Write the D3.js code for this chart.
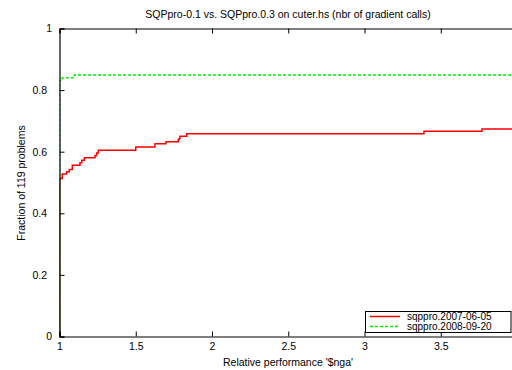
<!DOCTYPE html>
<html>
<head>
<meta charset="utf-8">
<script src="https://cdn.jsdelivr.net/npm/d3@7"></script>
<style>
  html, body { margin: 0; padding: 0; background: #fff; }
  svg { display: block; font-family: "Liberation Sans", Arial, sans-serif; }
</style>
</head>
<body>
<svg id="chart" width="512" height="370"></svg>
<script>
// ---- data ----
const titleText = "SQPpro-0.1 vs. SQPpro.0.3 on cuter.hs (nbr of gradient calls)";
const xLabelText = "Relative performance '$nga'";
const yLabelText = "Fraction of 119 problems";
const xTicks = [1, 1.5, 2, 2.5, 3, 3.5];
const xTickLabels = ["1", "1.5", "2", "2.5", "3", "3.5"];
const yTicks = [0, 0.2, 0.4, 0.6, 0.8, 1];
const yTickLabels = ["0", "0.2", "0.4", "0.6", "0.8", "1"];
const seriesNames = ["sqppro.2007-06-05", "sqppro.2008-09-20"];
const seriesColors = ["#ff0000", "#00ee00"];
// step profile for sqppro.2007-06-05
const redX = [1, 1, 1.018, 1.047, 1.064, 1.084, 1.134, 1.146, 1.163, 1.233, 1.244, 1.254, 1.500, 1.626, 1.698, 1.779, 1.786, 1.790, 1.834, 3.390, 3.770, 4.0];
const redY = [0, 0.513, 0.528, 0.535, 0.542, 0.556, 0.564, 0.572, 0.580, 0.588, 0.596, 0.605, 0.615, 0.626, 0.632, 0.640, 0.644, 0.650, 0.658, 0.666, 0.674, 0.674];
// step profile for sqppro.2008-09-20
const greenX = [1, 1, 1.018, 1.097, 4.0];
const greenY = [0, 0.832, 0.840, 0.849, 0.849];

// ---- layout ----
const mLeft = 59.5, mRight = 517, mTop = 28.5, mBottom = 336.5;
const fs = 10.5;
const svg = d3.select("#chart");
const x = d3.scaleLinear().domain([1, 4]).range([mLeft, mRight]);
const y = d3.scaleLinear().domain([0, 1]).range([mBottom, mTop]);

svg.append("defs").append("clipPath").attr("id", "clip")
  .append("rect").attr("x", mLeft).attr("y", mTop).attr("width", mRight - mLeft).attr("height", mBottom - mTop);

const line = d3.line().x(d => x(d[0])).y(d => y(d[1])).curve(d3.curveStepAfter);
const redData = redX.map((v, i) => [v, redY[i]]);
const greenData = greenX.map((v, i) => [v, greenY[i]]);

const g = svg.append("g").attr("clip-path", "url(#clip)");
g.append("path").datum(redData).attr("d", line)
  .attr("fill", "none").attr("stroke", seriesColors[0]).attr("stroke-width", 1.5);
g.append("path").datum(greenData).attr("d", line)
  .attr("fill", "none").attr("stroke", seriesColors[1]).attr("stroke-width", 1.5)
  .attr("stroke-dasharray", "3,2");

// ---- axes (inward ticks on all sides) ----
const tk = 5;
const axB = svg.append("g").attr("transform", `translate(0,${mBottom})`)
  .call(d3.axisBottom(x).tickValues(xTicks).tickSize(-tk).tickPadding(6).tickFormat((d, i) => xTickLabels[i]));
const axT = svg.append("g").attr("transform", `translate(0,${mTop})`)
  .call(d3.axisTop(x).tickValues(xTicks).tickSize(-tk).tickFormat(""));
const axL = svg.append("g").attr("transform", `translate(${mLeft},0)`)
  .call(d3.axisLeft(y).tickValues(yTicks).tickSize(-tk).tickFormat((d, i) => yTickLabels[i]));
const axR = svg.append("g").attr("transform", `translate(${mRight},0)`)
  .call(d3.axisRight(y).tickValues(yTicks).tickSize(-tk).tickFormat(""));
[axB, axT, axL, axR].forEach(a => {
  a.select(".domain").attr("stroke", "#000").attr("stroke-width", 1);
  a.selectAll(".tick line").attr("stroke", "#000");
  a.selectAll("text").attr("font-size", fs).attr("fill", "#000")
    .attr("font-family", "'Liberation Sans', Arial, sans-serif");
});
// gnuplot-style label placement (fixed-width estimate, right aligned)
axL.selectAll(".tick text")
  .attr("text-anchor", "start")
  .attr("x", (d, i) => -6.4 - yTickLabels[i].length * 6.9);
axB.select(".domain").attr("stroke-width", 1.2);
axL.select(".domain").attr("stroke-width", 1.2);

// ---- titles ----
svg.append("text").attr("x", 288).attr("y", 18).attr("text-anchor", "middle")
  .attr("font-size", fs).text(titleText);
svg.append("text").attr("x", 288).attr("y", 366).attr("text-anchor", "middle")
  .attr("font-size", fs).text(xLabelText);
svg.append("text").attr("transform", "translate(25,183) rotate(-90)").attr("text-anchor", "middle")
  .attr("font-size", fs).text(yLabelText);

// ---- legend ----
const lg = svg.append("g");
lg.append("rect").attr("x", 365.5).attr("y", 311.5).attr("width", 145.5).attr("height", 21)
  .attr("fill", "#fff").attr("stroke", "#000").attr("stroke-width", 1);
seriesNames.forEach((name, i) => {
  const yy = 316.5 + i * 10;
  lg.append("line").attr("x1", 370).attr("x2", 400).attr("y1", yy).attr("y2", yy)
    .attr("stroke", seriesColors[i]).attr("stroke-width", 1.5)
    .attr("stroke-dasharray", i === 1 ? "3,2" : null);
  lg.append("text").attr("x", 407).attr("y", yy + 3.6).attr("font-size", 10).text(name);
});
</script>
</body>
</html>
